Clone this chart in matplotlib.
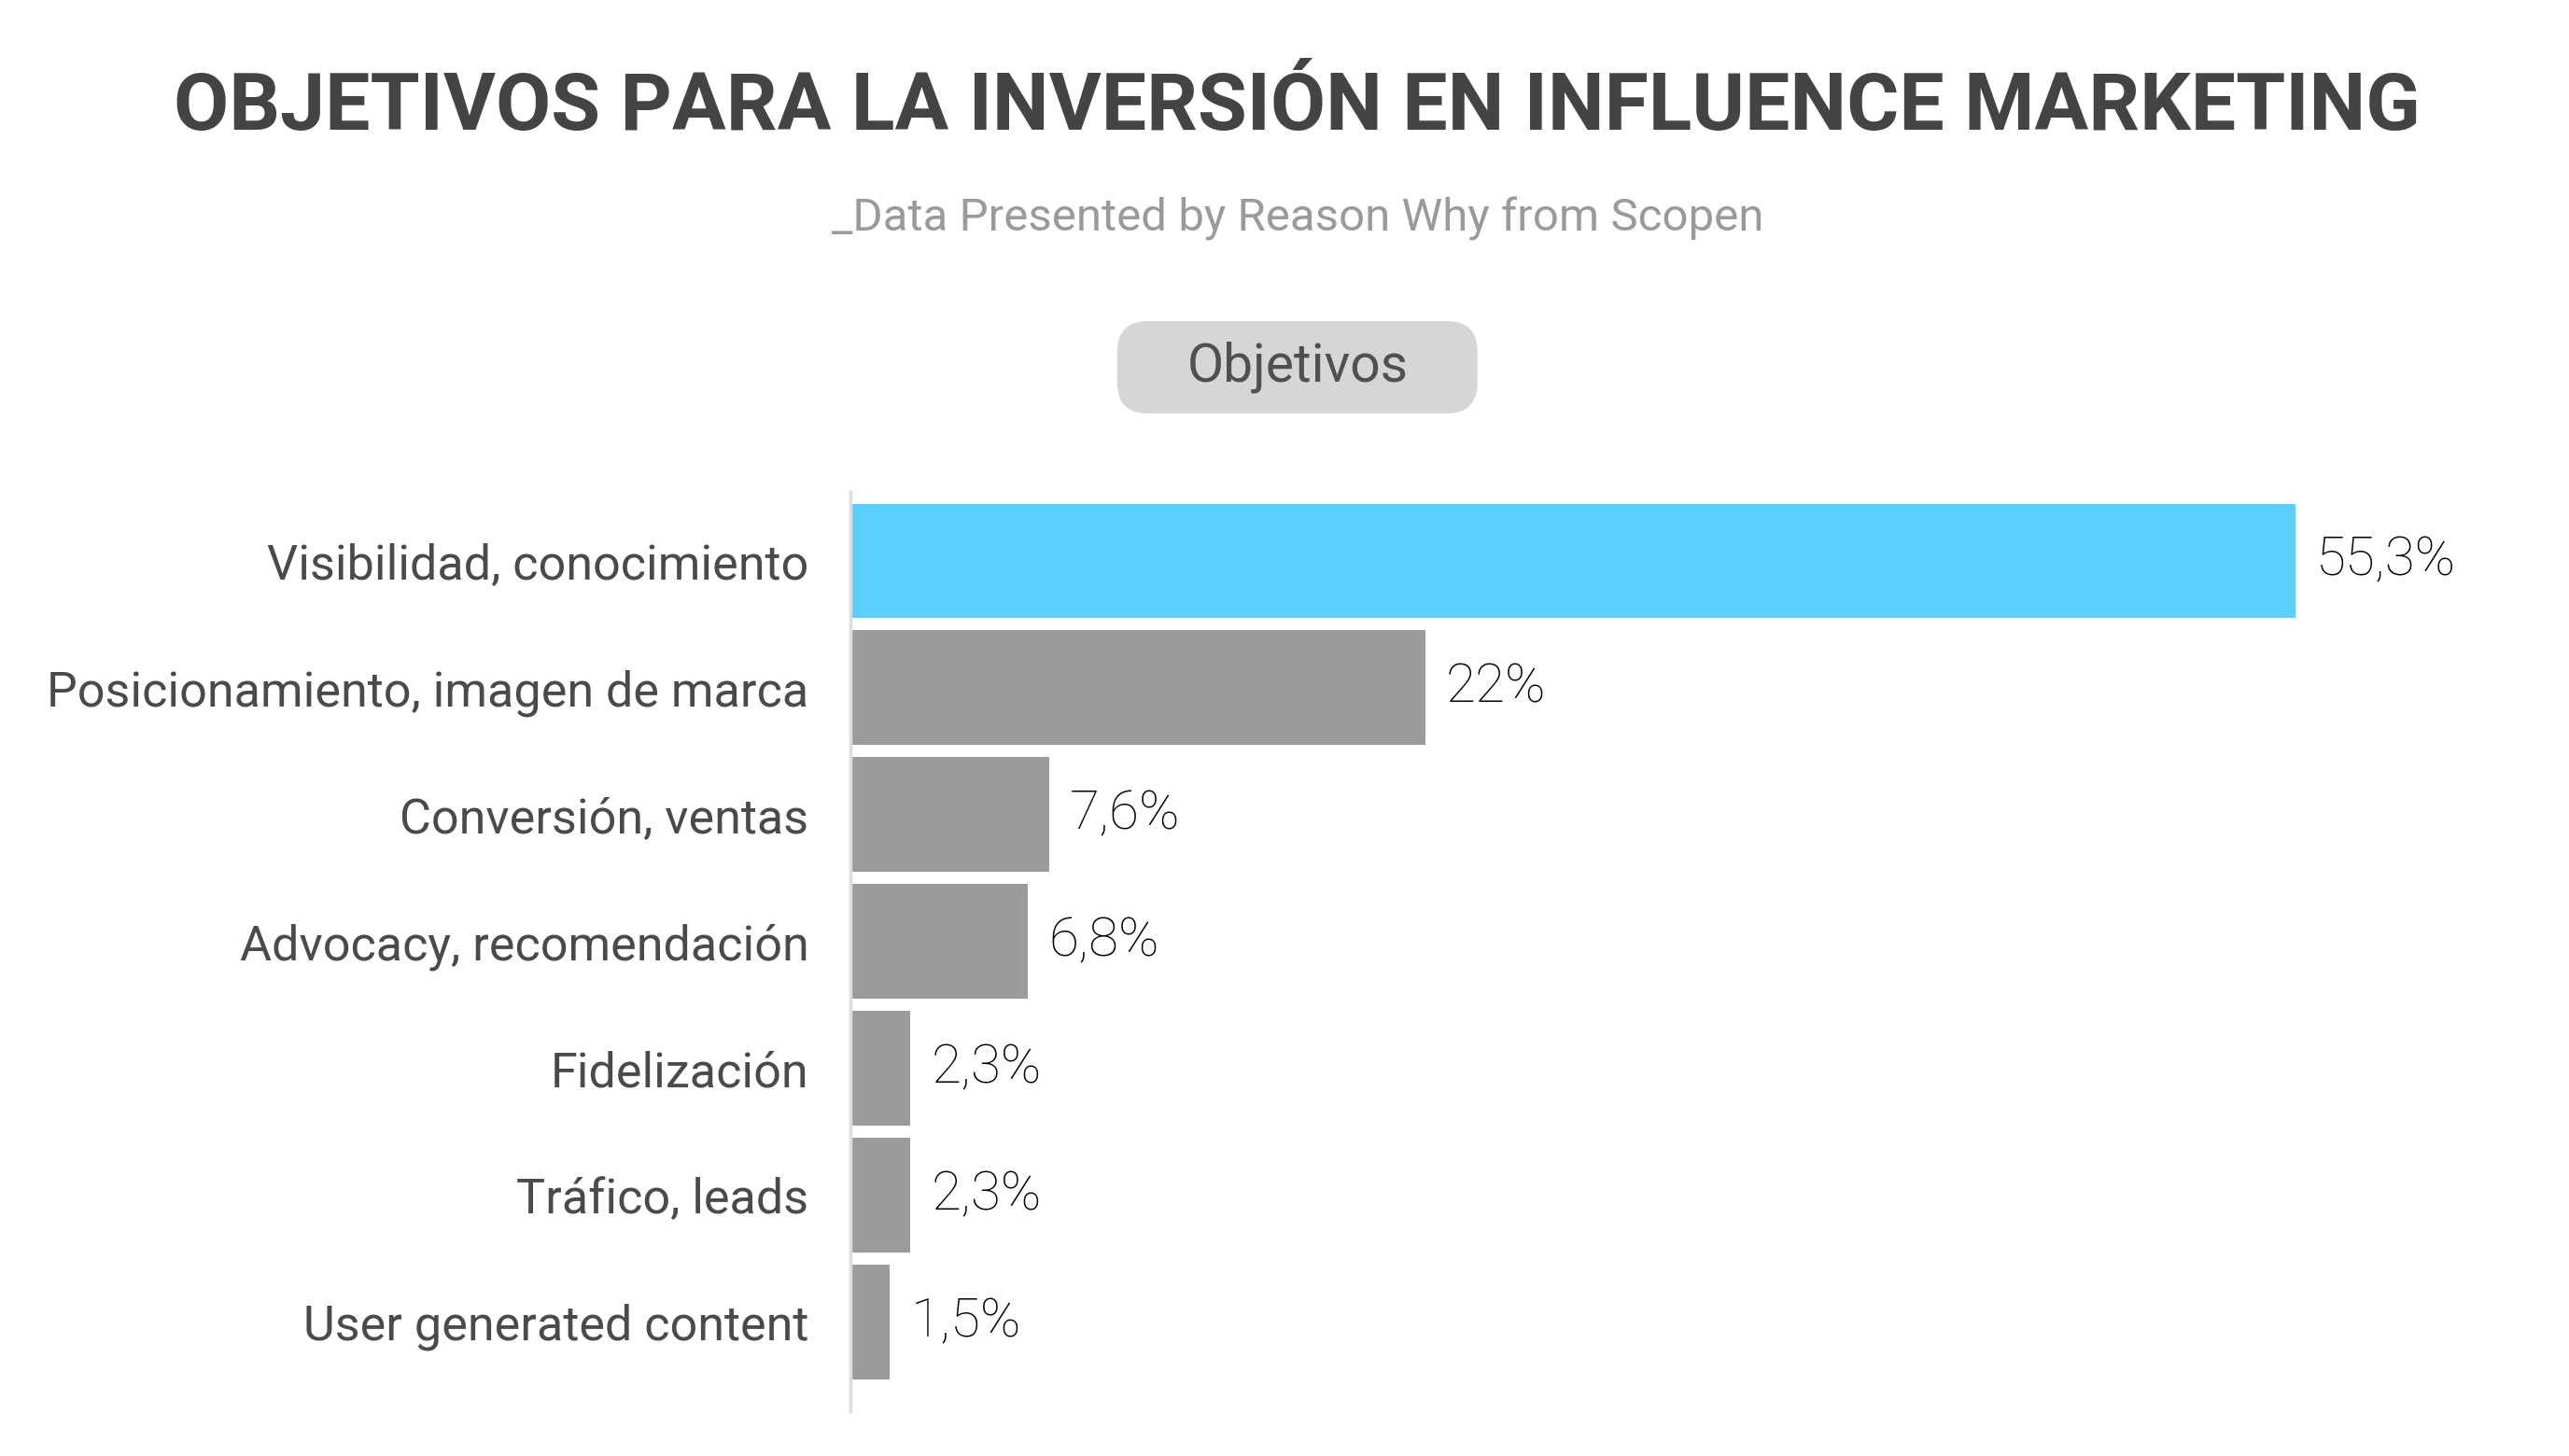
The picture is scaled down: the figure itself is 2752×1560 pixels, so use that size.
import matplotlib
matplotlib.use("Agg")
import matplotlib.pyplot as plt
from matplotlib.patches import FancyBboxPatch

# Data
categories = [
    "Visibilidad, conocimiento",
    "Posicionamiento, imagen de marca",
    "Conversión, ventas",
    "Advocacy, recomendación",
    "Fidelización",
    "Tráfico, leads",
    "User generated content",
]
values = [55.3, 22, 7.6, 6.8, 2.3, 2.3, 1.5]
value_labels = ["55,3%", "22%", "7,6%", "6,8%", "2,3%", "2,3%", "1,5%"]
bar_colors = ["#5BCEFB"] + ["#9B9B9B"] * 6

title = "OBJETIVOS PARA LA INVERSIÓN EN INFLUENCE MARKETING"
subtitle = "_Data Presented by Reason Why from Scopen"
legend_label = "Objetivos"

fonts = ["Roboto", "DejaVu Sans"]

fig = plt.figure(figsize=(27.52, 15.6), dpi=100)
fig.patch.set_facecolor("white")

ax = fig.add_axes([0.331, 0.031, 0.661, 0.631])
pos = list(range(len(categories)))
ax.barh(pos, values, height=0.9, color=bar_colors)
ax.set_xlim(0, 65)
ax.set_ylim(6.7, -0.54)

for s in ["top", "right", "bottom"]:
    ax.spines[s].set_visible(False)
ax.spines["left"].set_color("#DDDDDD")
ax.spines["left"].set_linewidth(2.5)
ax.set_xticks([])
ax.set_yticks(pos)
ax.set_yticklabels(categories, fontsize=37.5, color="#4A4A4A",
                   family=fonts, fontweight="normal")
ax.tick_params(axis="y", length=0, pad=32)

for p, v, lab in zip(pos, values, value_labels):
    ax.text(v + 0.8, p, lab, va="center", ha="left", fontsize=42,
            color="#000000", family=fonts, fontweight="light")

# title, sized to span the same width as the original
t = fig.text(0.505, 0.926, title, ha="center", va="center", fontsize=70,
             fontweight="bold", color="#444444", family=fonts)
fig.canvas.draw()
w = t.get_window_extent().width
t.set_fontsize(70 * 2406 / w)

fig.text(0.505, 0.850, subtitle, ha="center", va="center", fontsize=35.5,
         color="#9A9A9A", family=fonts, fontweight="normal")

# legend pill
box_w, box_h = 386 / 2752, 99 / 1560
bx, by = 0.505 - box_w / 2, 1 - 443 / 1560
pill = FancyBboxPatch((bx, by), box_w, box_h,
                      boxstyle="round,pad=0,rounding_size=0.012",
                      transform=fig.transFigure, facecolor="#D6D6D6",
                      edgecolor="none", mutation_aspect=2752 / 1560)
fig.patches.append(pill)
fig.text(0.505, by + box_h / 2, legend_label, ha="center", va="center",
         fontsize=41, color="#505050", family=fonts, fontweight="normal")

fig.savefig("out.png", dpi=100, facecolor="white")
